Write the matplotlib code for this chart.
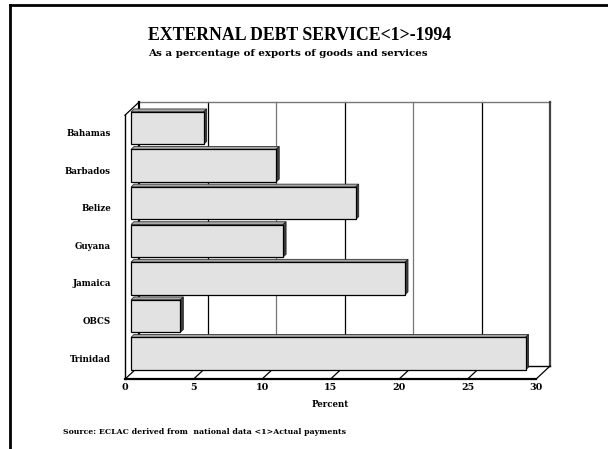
import matplotlib.pyplot as plt
from matplotlib.patches import Polygon
from matplotlib.lines import Line2D

categories = ['Bahamas', 'Barbados', 'Belize', 'Guyana', 'Jamaica', 'OBCS', 'Trinidad']
values = [5.3, 10.6, 16.4, 11.1, 20.0, 3.6, 28.8]
ticks = [0, 5, 10, 15, 20, 25, 30]

title = 'EXTERNAL DEBT SERVICE<1>-1994'
subtitle = 'As a percentage of exports of goods and services'
xlabel = 'Percent'
source = 'Source: ECLAC derived from  national data <1>Actual payments'

W, H = 608, 449
# pixel scale of the data axes
PX_X = 13.7   # pixels per percent
PX_Y = 37.6   # pixels per category
X0, Y0 = 131, 128   # pixel of value 0 / first category (bar front plane)
XMIN, XMAX = -1.0, 31.0
YMIN, YMAX = -0.8, 6.9

serif = 'DejaVu Serif'


def depth(x, y, d):
  # shift a point by d pixels of depth (positive = towards the back wall)
  return (x + d / PX_X, y - d * 0.93 / PX_Y)


fig = plt.figure(figsize=(W / 100, H / 100), dpi=100)
left = (X0 + XMIN * PX_X) / W
right = (X0 + XMAX * PX_X) / W
top = (Y0 + YMIN * PX_Y) / H
bottom = (Y0 + YMAX * PX_Y) / H
ax = fig.add_axes([left, 1 - bottom, right - left, bottom - top])
ax.set_xlim(XMIN, XMAX)
ax.set_ylim(YMAX, YMIN)
ax.axis('off')

FRONT, BACK, BAR_D = -6, 8, 3
wall_top = -0.49
floor_y = 6.53
vmax = ticks[-1]

# back wall
ax.add_patch(Polygon([depth(0, wall_top, BACK), depth(vmax, wall_top, BACK),
                      depth(vmax, floor_y, BACK), depth(0, floor_y, BACK)],
                     closed=True, facecolor='white', edgecolor='none', zorder=1, clip_on=False))
for i, t in enumerate(ticks[1:-1]):
  c = 'black' if i % 2 == 0 else '#777777'
  a = depth(t, wall_top, BACK)
  b = depth(t, floor_y, BACK)
  ax.plot([a[0], b[0]], [a[1], b[1]], color=c, lw=0.9, zorder=2, clip_on=False)
# top edge of back wall
a = depth(0, wall_top, BACK)
b = depth(vmax, wall_top, BACK)
ax.plot([a[0], b[0]], [a[1], b[1]], color='#777777', lw=1.0, zorder=2, clip_on=False)
# right edge
a = depth(vmax, wall_top, BACK)
b = depth(vmax, floor_y, BACK)
ax.plot([a[0], b[0]], [a[1], b[1]], color='#444444', lw=1.6, zorder=2, clip_on=False)
# left back edge
a = depth(0, wall_top, BACK)
b = depth(0, floor_y, BACK)
ax.plot([a[0], b[0]], [a[1], b[1]], color='black', lw=1.6, zorder=2, clip_on=False)

# left wall
pts = [depth(0, wall_top, FRONT), depth(0, wall_top, BACK)]
ax.plot([p[0] for p in pts], [p[1] for p in pts], color='black', lw=0.9, zorder=2, clip_on=False)
a = depth(0, wall_top, FRONT)
b = depth(0, floor_y, FRONT)
ax.plot([a[0], b[0]], [a[1], b[1]], color='black', lw=1.0, zorder=2, clip_on=False)

# floor
a = depth(0, floor_y, BACK)
b = depth(vmax, floor_y, BACK)
ax.plot([a[0], b[0]], [a[1], b[1]], color='black', lw=1.0, zorder=2, clip_on=False)
a = depth(0, floor_y, FRONT)
b = depth(vmax, floor_y, FRONT)
ax.plot([a[0], b[0]], [a[1], b[1]], color='black', lw=1.6, zorder=2, clip_on=False)
for t in ticks:
  a = depth(t, floor_y, FRONT)
  b = depth(t, floor_y, BACK)
  ax.plot([a[0], b[0]], [a[1], b[1]], color='black', lw=0.9, zorder=2, clip_on=False)
  ax.text(a[0], a[1] + 8 / PX_Y, str(t), ha='center', va='center', fontsize=6.8,
          fontweight='heavy', family=serif, clip_on=False)

# bars
bh = 0.865
for i, v in enumerate(values):
  y_top = i - bh / 2
  y_bot = i + bh / 2
  ax.barh(i, v, height=bh, left=0, color='#e2e2e2', edgecolor='black', linewidth=0.9, zorder=4)
  topface = [(0, y_top), (v, y_top), depth(v, y_top, BAR_D), depth(0, y_top, BAR_D)]
  ax.add_patch(Polygon(topface, closed=True, facecolor='#a8a8a8', edgecolor='#333333',
                       linewidth=0.6, zorder=3))
  side = [(v, y_top), depth(v, y_top, BAR_D), depth(v, y_bot, BAR_D), (v, y_bot)]
  ax.add_patch(Polygon(side, closed=True, facecolor='#404040', edgecolor='#222222',
                       linewidth=0.6, zorder=3))
  lx, ly = depth(0, i, FRONT)
  ax.text(lx - 14 / PX_X, ly, categories[i], ha='right', va='center', fontsize=6.2,
          fontweight='heavy', family=serif, clip_on=False)

px, py = depth(vmax / 2, floor_y, FRONT)
ax.text(px, py + 25 / PX_Y, xlabel, ha='center', va='center', fontsize=6.2,
        fontweight='heavy', family=serif, clip_on=False)

fig.text(300 / W, 1 - 36 / H, title, ha='center', va='center', fontsize=12.8,
         fontweight='bold', family='Liberation Serif')
fig.text(288 / W, 1 - 54 / H, subtitle, ha='center', va='center', fontsize=7.4,
         fontweight='heavy', family=serif)
fig.text(63 / W, 1 - 432 / H, source, ha='left', va='center', fontsize=5.6,
         fontweight='heavy', family=serif)

# page frame
fig.add_artist(Line2D([10 / W, 1], [1 - 5 / H, 1 - 5 / H], color='black', lw=2))
fig.add_artist(Line2D([10 / W, 10 / W], [1 - 5 / H, 0], color='black', lw=2))

fig.savefig('out.png', dpi=100)
